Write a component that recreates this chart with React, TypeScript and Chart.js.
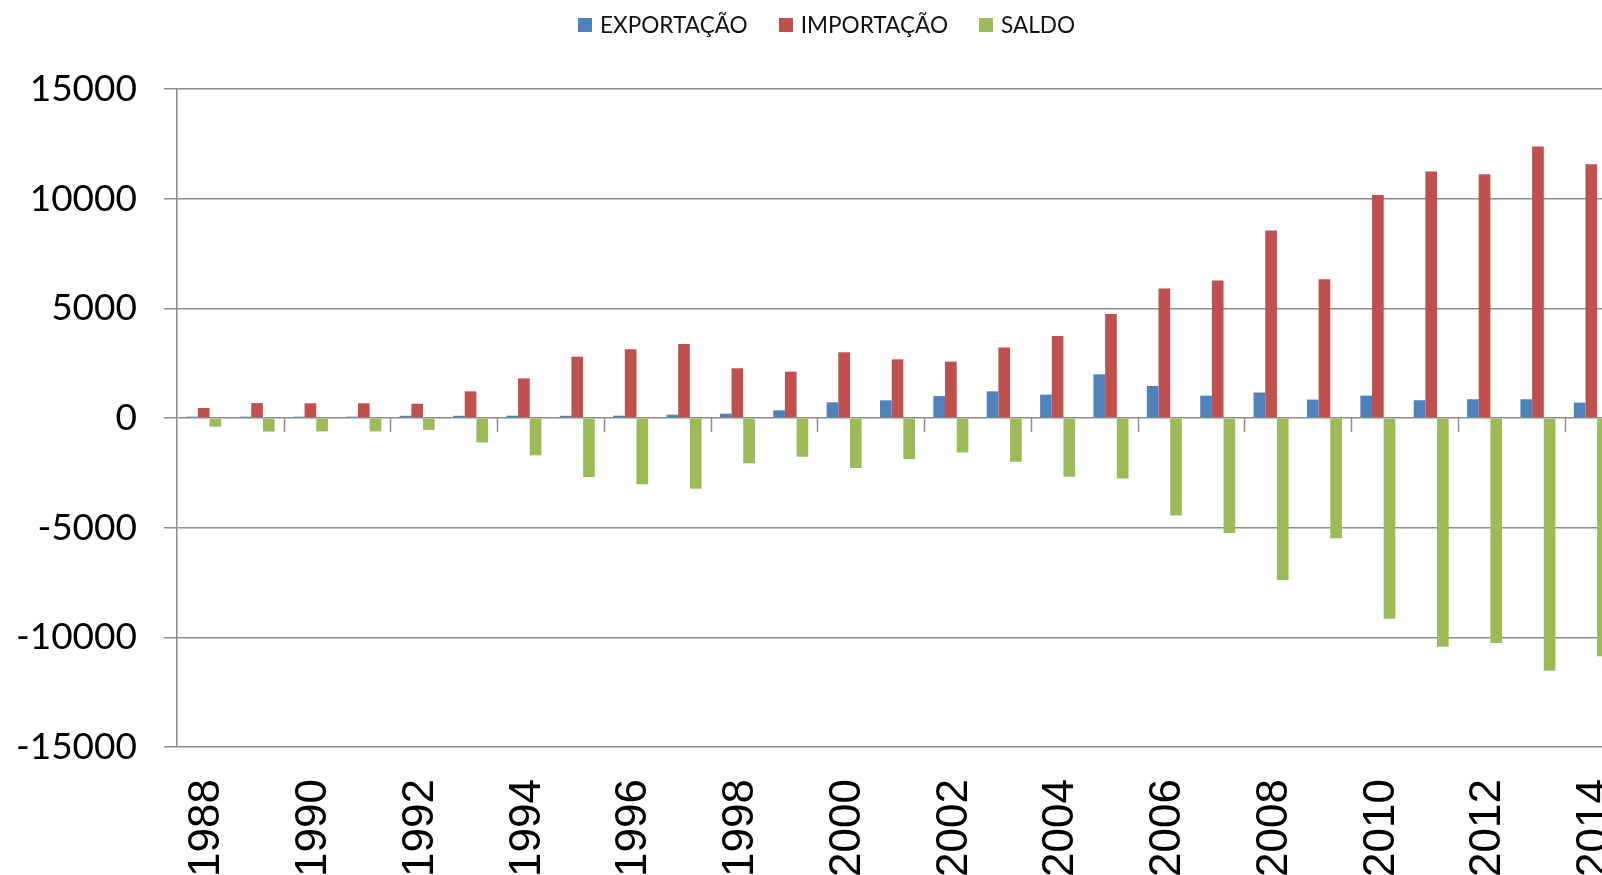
import React, { useEffect, useRef } from 'react';
import { Chart, registerables } from 'chart.js';

Chart.register(...registerables);

const YEARS = [
  '1988', '1989', '1990', '1991', '1992', '1993', '1994', '1995', '1996', '1997',
  '1998', '1999', '2000', '2001', '2002', '2003', '2004', '2005', '2006', '2007',
  '2008', '2009', '2010', '2011', '2012', '2013', '2014',
];

const EXPORTACAO = [
  60, 60, 60, 60, 100, 100, 105, 100, 105, 150,
  200, 350, 715, 805, 1000, 1215, 1065, 1990, 1460, 1020,
  1160, 840, 1020, 810, 855, 855, 700,
];

const IMPORTACAO = [
  455, 680, 670, 670, 650, 1215, 1805, 2795, 3130, 3375,
  2265, 2115, 2995, 2675, 2570, 3210, 3740, 4745, 5900, 6265,
  8545, 6325, 10170, 11235, 11110, 12375, 11565,
];

const SALDO = [
  -395, -620, -610, -610, -545, -1115, -1700, -2695, -3025, -3225,
  -2065, -1765, -2280, -1870, -1570, -1995, -2675, -2755, -4440, -5245,
  -7385, -5485, -9150, -10425, -10255, -11520, -10865,
];

const SERIES_NAMES = ['EXPORTAÇÃO', 'IMPORTAÇÃO', 'SALDO'];
const SERIES_COLORS = ['#4F81BD', '#C0504D', '#9BBB59'];

const Y_MIN = -15000;
const Y_MAX = 15000;
const Y_STEP = 5000;

const GRID_COLOR = '#8c8c8c';
const CANVAS_W = 1618;
const CANVAS_H = 875;

const X_LABEL_FONT_SIZE = 44;
const X_LABEL_GAP = 32;

const xTickMarks = {
  id: 'xTickMarks',
  afterDatasetsDraw(chart: any) {
    const { ctx, chartArea, scales } = chart;
    const y0 = scales.y.getPixelForValue(0);
    const n = YEARS.length;
    const w = (chartArea.right - chartArea.left) / n;
    ctx.save();
    ctx.strokeStyle = GRID_COLOR;
    ctx.lineWidth = 1.5;
    for (let k = 2; k < n; k += 2) {
      const px = Math.round(chartArea.left + k * w) + 0.5;
      ctx.beginPath();
      ctx.moveTo(px, y0);
      ctx.lineTo(px, y0 + 14);
      ctx.stroke();
    }
    ctx.restore();
  },
  afterDraw(chart: any) {
    const { ctx, chartArea, scales } = chart;
    const xs = scales.x;
    const capH = 0.716 * X_LABEL_FONT_SIZE;
    ctx.save();
    ctx.font = `${X_LABEL_FONT_SIZE}px "Liberation Sans", Arial, sans-serif`;
    ctx.fillStyle = '#000';
    ctx.textAlign = 'right';
    ctx.textBaseline = 'alphabetic';
    YEARS.forEach((label, i) => {
      if (i % 2 !== 0) return;
      const px = xs.getPixelForValue(i);
      ctx.save();
      ctx.translate(px, chartArea.bottom + X_LABEL_GAP);
      ctx.rotate(-Math.PI / 2);
      ctx.fillText(label, 0, capH / 2);
      ctx.restore();
    });
    ctx.restore();
  },
};

export default function App() {
  const canvasRef = useRef<HTMLCanvasElement | null>(null);

  useEffect(() => {
    const canvas = canvasRef.current;
    if (!canvas) return;
    const seriesData = [EXPORTACAO, IMPORTACAO, SALDO];
    const chart = new Chart(canvas, {
      type: 'bar',
      data: {
        labels: YEARS,
        datasets: SERIES_NAMES.map((name, i) => ({
          label: name,
          data: seriesData[i],
          backgroundColor: SERIES_COLORS[i],
          borderWidth: 0,
          categoryPercentage: 0.656,
          barPercentage: 1.0,
        })),
      },
      options: {
        responsive: false,
        animation: false,
        devicePixelRatio: 1,
        layout: { autoPadding: false, padding: { top: 89, left: 0, right: 0, bottom: 0 } },
        plugins: {
          legend: { display: false },
          tooltip: { enabled: false },
        },
        scales: {
          x: {
            grid: { display: false, drawTicks: false },
            border: { display: false },
            afterFit: (s: any) => { s.height = 128; s.paddingLeft = 0; s.paddingRight = 0; },
            ticks: { display: false, autoSkip: false },
          },
          y: {
            min: Y_MIN,
            max: Y_MAX,
            afterFit: (s: any) => { s.width = 177; s.paddingTop = 0; s.paddingBottom = 0; },
            grid: { color: GRID_COLOR, lineWidth: 1.5, drawTicks: true, tickLength: 13 },
            border: { display: true, color: GRID_COLOR, width: 1.5 },
            ticks: {
              stepSize: Y_STEP,
              padding: 27,
              color: '#000',
              font: { family: 'Lato, "Open Sans", sans-serif', size: 37 },
              callback: (v: any) => String(v),
            },
          },
        },
      },
      plugins: [xTickMarks],
    });
    return () => chart.destroy();
  }, []);

  const legendItem = (name: string, color: string, first: boolean) => (
    <div key={name} style={{ display: 'flex', alignItems: 'center', marginLeft: first ? 0 : 31 }}>
      <span style={{ display: 'inline-block', width: 14, height: 14, background: color, marginRight: 8 }} />
      <span>{name}</span>
    </div>
  );

  return (
    <div style={{ position: 'fixed', left: 0, top: 0, width: '100vw', height: '100vh', overflow: 'hidden', background: '#fff' }}>
      <canvas ref={canvasRef} width={CANVAS_W} height={CANVAS_H}
        style={{ position: 'absolute', left: 0, top: 0, width: CANVAS_W, height: CANVAS_H }} />
      <div style={{
        position: 'absolute', left: 578, top: 11, height: 28, display: 'flex', alignItems: 'center',
        fontFamily: 'Lato, "Open Sans", sans-serif', fontSize: 22.6, lineHeight: '28px', color: '#111', whiteSpace: 'nowrap',
      }}>
        {SERIES_NAMES.map((n, i) => legendItem(n, SERIES_COLORS[i], i === 0))}
      </div>
    </div>
  );
}
